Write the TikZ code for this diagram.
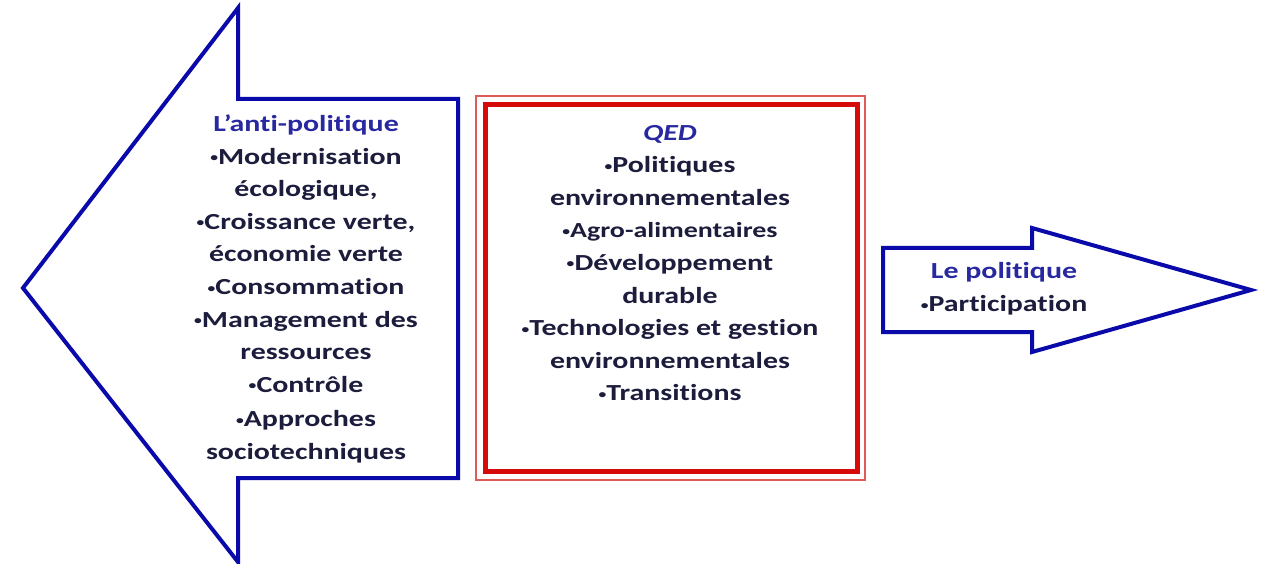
\documentclass[tikz,border=0pt]{standalone}
\usepackage{fontspec}
\setmainfont[FakeStretch=1.3, Ligatures=NoCommon]{Carlito}
\definecolor{arrowblue}{RGB}{10,10,170}
\definecolor{titleblue}{RGB}{40,40,160}
\definecolor{itemnavy}{RGB}{28,28,60}
\definecolor{boxred}{RGB}{215,10,10}
\definecolor{rimred}{RGB}{225,90,90}
\newcommand{\bul}{{\fontsize{12}{0}\selectfont\raisebox{2.5pt}{•}}}
\begin{document}
\begin{tikzpicture}[x=1pt, y=-1pt,
    arrowline/.style={draw=arrowblue, line width=4pt, line join=miter},
    itemtext/.style={align=center, text=itemnavy,
      font=\fontsize{23}{32.6}\selectfont\bfseries}]
    \useasboundingbox (0,0) rectangle (1261,564);
    % left arrow: the anti-political side
    \draw[arrowline] (23,288) -- (238,8) -- (238,99) -- (458,99) -- (458,478)
        -- (238,478) -- (238,562) -- cycle;
    % middle frame, thin rim round a thick one
    \draw[rimred, line width=1.5pt] (476,96) rectangle (865,480);
    \draw[boxred, line width=5pt] (485,105) rectangle (857,471);
    % right arrow: the political side
    \draw[arrowline] (883,248) -- (1032,248) -- (1032,228) -- (1251,290)
        -- (1032,352) -- (1032,332) -- (883,332) -- cycle;
    \node[itemtext] (antipol) at (306,289) {%
        \textcolor{titleblue}{L'anti-politique}\\
        \bul Modernisation\\ écologique,\\ \bul Croissance verte,\\ économie verte\\
        \bul Consommation\\ \bul Management des\\ ressources\\ \bul Contrôle\\[2pt]
        \bul Approches\\ sociotechniques};
    \node[itemtext] (qed) at (670,263) {%
        \textcolor{titleblue}{\itshape QED}\\
        \bul Politiques\\ environnementales\\
        {\fontsize{21.5}{32.6}\selectfont \bul Agro-alimentaires}\\
        \bul Développement\\ durable\\ \bul Technologies et gestion\\
        environnementales\\ \bul Transitions};
    \node[itemtext] (pol) at (1004,289) {%
        \textcolor{titleblue}{Le politique}\\ \bul Participation};
\end{tikzpicture}
\end{document}
